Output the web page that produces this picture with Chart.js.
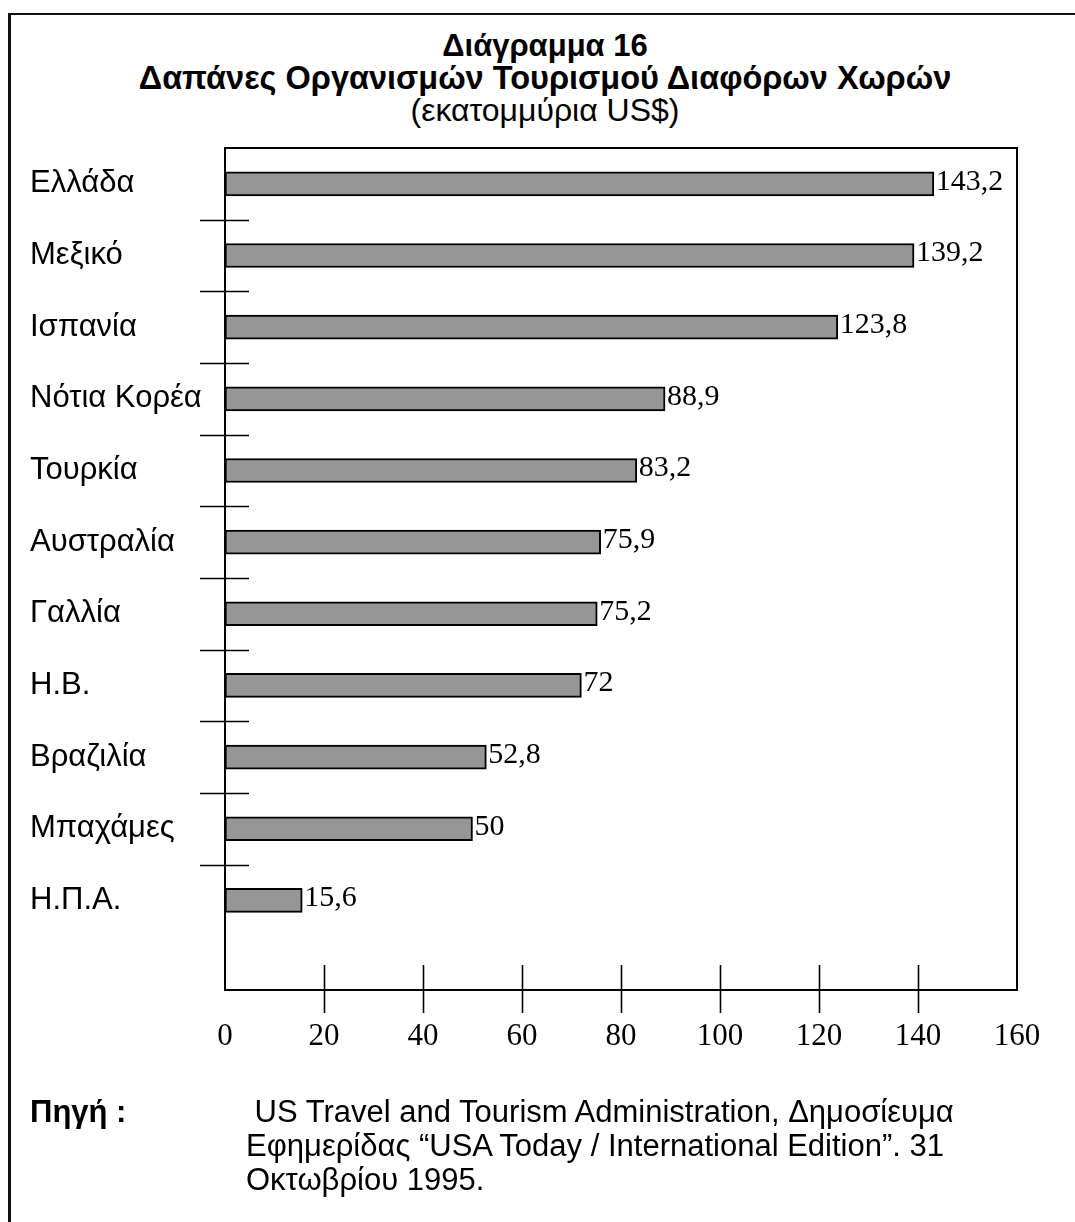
<!DOCTYPE html>
<html>
<head>
<meta charset="utf-8">
<script src="https://cdn.jsdelivr.net/npm/chart.js@4"></script>
<style>
  html, body { margin: 0; padding: 0; background: #fff; }
  body { width: 1075px; height: 1222px; position: relative; overflow: hidden; }
  .frame { position: absolute; left: 8px; top: 13px; width: 1200px; height: 1300px;
           border-top: 2px solid #111; border-left: 3px solid #111; }
  .title { position: absolute; left: 0; top: 29px; width: 1090px; text-align: center;
           font-family: "Liberation Sans", Arial, sans-serif; color: #000; white-space: nowrap; }
  .title .t1 { font-weight: bold; font-size: 31px; line-height: 33px; }
  .title .t1.wide { font-size: 32.5px; }
  .title .t2 { font-size: 32px; line-height: 31px; }
  .source { position: absolute; left: 30px; top: 1095px; font-family: "Liberation Sans", Arial, sans-serif;
            font-size: 31px; line-height: 34px; color: #000; white-space: nowrap; }
  .source b { position: absolute; left: 0; top: 0; }
  .source .txt { position: absolute; left: 216px; top: 0; }
  canvas { position: absolute; left: 0; top: 0; }
</style>
</head>
<body>
<div class="frame"></div>
<div class="title">
  <div class="t1">Διάγραμμα 16</div>
  <div class="t1 wide">Δαπάνες Οργανισμών Τουρισμού Διαφόρων Χωρών</div>
  <div class="t2">(εκατομμύρια US$)</div>
</div>
<canvas id="chart" width="1075" height="1222"></canvas>
<div class="source">
  <b>Πηγή :</b>
  <div class="txt">&nbsp;US Travel and Tourism Administration, Δημοσίευμα<br>Εφημερίδας “USA Today / International Edition”. 31<br>Οκτωβρίου 1995.</div>
</div>
<script>
const categories = ['Ελλάδα', 'Μεξικό', 'Ισπανία', 'Νότια Κορέα', 'Τουρκία', 'Αυστραλία',
                    'Γαλλία', 'Η.Β.', 'Βραζιλία', 'Μπαχάμες', 'Η.Π.Α.'];
const spending = [143.2, 139.2, 123.8, 88.9, 83.2, 75.9, 75.2, 72, 52.8, 50, 15.6];
const xTickValues = [0, 20, 40, 60, 80, 100, 120, 140, 160];

const fmt = v => String(v).replace('.', ',');

// box round the plot, plus tick marks that cross both axes
const frameAndTicks = {
    id: 'frameAndTicks',
    afterDraw(chart) {
        const { ctx, chartArea: a, scales } = chart;
        ctx.save();
        ctx.strokeStyle = '#000';
        ctx.lineWidth = 2;
        ctx.strokeRect(a.left, a.top, a.right - a.left, a.bottom - a.top);

        ctx.lineWidth = 1.6;
        ctx.beginPath();
        for (let i = 0; i < categories.length - 1; i++) {
            const y = Math.round(scales.y.getPixelForValue(i + 0.5)) + 0.5;
            ctx.moveTo(a.left - 25, y);
            ctx.lineTo(a.left + 24, y);
        }
        xTickValues.slice(1, -1).forEach(v => {
            const x = Math.round(scales.x.getPixelForValue(v)) + 0.5;
            ctx.moveTo(x, a.bottom - 25);
            ctx.lineTo(x, a.bottom + 23);
        });
        ctx.stroke();
        ctx.restore();
    }
};

// value next to the end of each bar
const barValues = {
    id: 'barValues',
    afterDatasetsDraw(chart) {
        const { ctx } = chart;
        const meta = chart.getDatasetMeta(0);
        ctx.save();
        ctx.fillStyle = '#000';
        ctx.font = '30px "Liberation Serif", "Times New Roman", serif';
        ctx.textAlign = 'left';
        ctx.textBaseline = 'middle';
        meta.data.forEach((bar, i) => {
            ctx.fillText(fmt(spending[i]), bar.x + 2, bar.y - 2);
        });
        ctx.restore();
    }
};

new Chart(document.getElementById('chart'), {
    type: 'bar',
    data: {
        labels: categories,
        datasets: [{
            data: spending.map((v, i) => ({ x: v, y: i })),
            backgroundColor: '#969696',
            borderColor: '#000',
            borderWidth: 2,
            borderSkipped: false,
            barThickness: 24
        }]
    },
    options: {
        indexAxis: 'y',
        responsive: false,
        animation: false,
        layout: { padding: { left: 30, top: 148, right: 58, bottom: 152 } },
        plugins: {
            legend: { display: false },
            tooltip: { enabled: false }
        },
        scales: {
            x: {
                type: 'linear',
                min: 0,
                max: 160,
                bounds: 'data',
                border: { display: false },
                grid: { display: false },
                afterBuildTicks: s => { s.ticks = xTickValues.map(v => ({ value: v })); },
                afterFit: s => { s.height = 80; },
                ticks: {
                    color: '#000',
                    padding: 20,
                    font: { family: '"Liberation Serif", "Times New Roman", serif', size: 31 }
                }
            },
            y: {
                type: 'linear',
                min: -0.5,
                max: 11.25,
                bounds: 'data',
                offset: false,
                reverse: true,
                border: { display: false },
                grid: { display: false, offset: false },
                afterBuildTicks: s => { s.ticks = categories.map((c, i) => ({ value: i })); },
                afterFit: s => { s.width = 195; },
                ticks: {
                    color: '#000',
                    crossAlign: 'far',
                    autoSkip: false,
                    callback: v => categories[v],
                    font: { family: '"Liberation Sans", Arial, sans-serif', size: 31 }
                }
            }
        }
    },
    plugins: [frameAndTicks, barValues]
});
</script>
</body>
</html>
